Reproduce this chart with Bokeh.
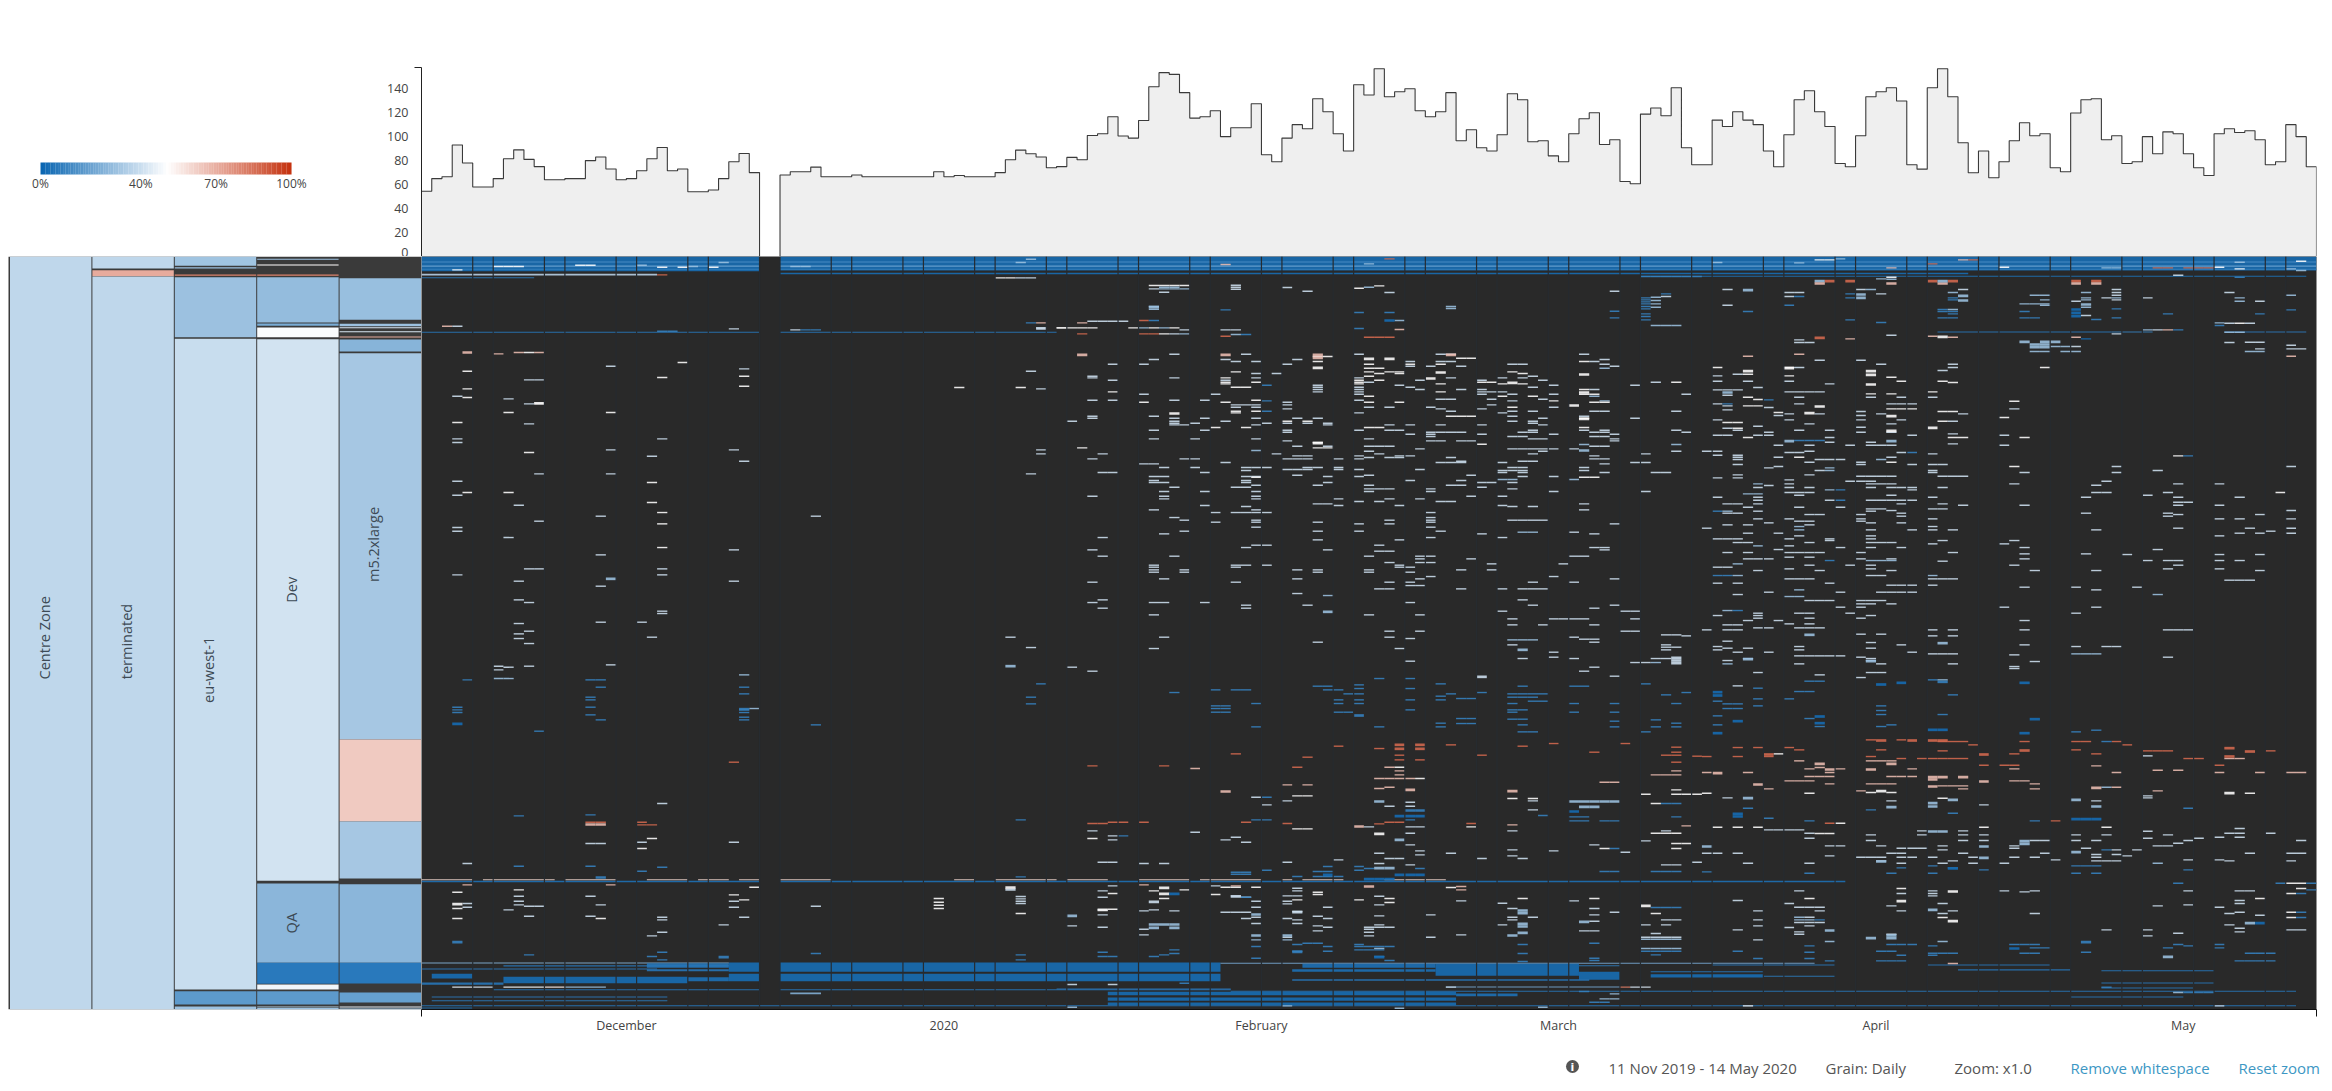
from bokeh.plotting import figure
from bokeh.layouts import column, row
from bokeh.models import Range1d, LinearColorMapper, ColumnDataSource, FixedTicker
from bokeh.core.properties import value
from bokeh.embed import file_html
from bokeh.resources import INLINE

# ---------- data ----------
running_instances = [54.5,65,66.5,93,78,58,58,65,81.5,89,81,75,64,64,65,65,80,83,73,64,65,71.5,81.5,91,71.5,73,54,54,55.5,65,79,86,70,0,0,
 68,70.7,70.7,74.6,66.5,66.5,66.5,68,66.5,66.5,66.5,66.5,66.5,66.5,66.5,70.7,66.5,67.6,66.5,66.5,66.5,70,80.7,88.8,85.7,83,74,75,82.7,80.7,
 101,102.4,116.6,100.5,98.8,113.5,141.7,153.4,152,136.7,115.5,116.6,121.6,100,107.4,107.4,127.5,84.9,79,98.8,110,106.6,131.6,120.8,102.4,88,
 143.3,134.7,156.7,133.3,137.5,140,121.6,116.6,120.8,136.7,96.6,105.8,90.7,88,101.6,135.8,
 130.8,95.7,96.6,84,79,102.4,115,120,93.5,97.4,62.6,60.7,118.8,123.9,117.5,140.8,90.7,76.5,76.5,113.8,108.5,120.8,113.8,110,88,74.9,101.6,
 130.8,138.3,120.8,108.5,77.6,74.9,100.8,133.3,137.5,140.8,129.7,76.5,72.9,140.8,156.7,133.3,94.9,69.9,88,65.7,79,96.6,111.6,100.8,102.4,74,
 70.7,119.7,130.8,131.6,97.4,100.8,77.6,79,100,85.7,104,102.4,85.7,74,67.6,102.4,106.6,103.5,104.9,97.4,76.5,79,110,100,74.9]
y_ticks = [0,20,40,60,80,100,120,140]
y_max = 157.7
month_days = [20,51,82,111,142,172]
month_labels = ["December","2020","February","March","April","May"]
legend_ticks = [0,40,70,100]
legend_labels = ["0%","40%","70%","100%"]
level_labels = [(0,1144,"Centre Zone"),(1,1155,"terminated"),(2,1240,"eu-west-1"),(3,1000,"Dev"),(3,2000,"QA"),(4,864,"m5.2xlarge")]
# (level, first rank, last rank, utilisation %)
hierarchy = [(0,0,2259,37),
 (1,0,36,37),(1,41,59,70),(1,60,2259,37),
 (2,0,28,30.5),(2,32,36,30),(2,54,58,80),(2,62,242,30),(2,247,2199,39),(2,2204,2244,17),(2,2250,2259,30),
 (3,7,10,30),(3,24,27,50),(3,54,58,80),(3,62,198,28.5),(3,201,208,23),(3,213,242,49),(3,248,1873,41),(3,1881,2119,26.5),(3,2119,2182,6.5),(3,2184,2199,47),(3,2204,2244,17),(3,2250,2252,35),(3,2254,2259,30),
 (4,65,190,29),(4,202,209,30),(4,212,215,42),(4,224,227,42),(4,240,243,70),(4,249,285,25.5),(4,290,1449,32),(4,1449,1695,62.5),(4,1695,1866,32),(4,1883,2119,26.5),(4,2119,2181,6.5),(4,2208,2238,19),(4,2250,2253,44),(4,2256,2259,30)]

W,G,L,B,D,S,R = 50,40,30,9,2,66,86
# long runs: (rank, first day, last day, %, rank height)
runs = [(0,0,32,3,44),(0,35,184,3,42),(15,0,32,14,3),(15,35,184,14,3),(27,0,32,20,4),(27,35,184,20,4),(37,0,32,9,3),(37,35,184,9,3),
 (49,35,150,3,4),(58,119,183,4,2.5),(52,0,22,36,5),(62,0,10,7,3),(226,0,32,6,3),(226,35,61,6,3),
 (1873,0,32,4,4),(1873,35,138,4,4),
 (1868,0,4,60,3.5),(1868,6,12,60,3.5),(1868,14,18,60,3.5),(1868,22,25,60,3.5),(1868,27,29,60,3.5),(1868,31,32,60,3.5),(1868,35,39,60,3.5),(1868,52,53,60,3.5),(1868,56,61,60,3.5),(1868,63,66,60,3.5),(1868,70,74,60,3.5),(1868,76,81,60,3.5),(1868,84,84,60,3.5),(1868,86,89,60,3.5),(1868,94,99,60,3.5),
 (2118,30,32,3,28),(2118,35,77,3,28),(2152,30,32,3,22),(2152,35,77,3,22),
 (2118,0,29,25,3),(2126,8,29,6,4),(2136,0,22,7,3),(2152,1,4,3,14),(2161,8,25,3,19),(2178,0,7,6,7),(2162,26,29,4,12),(2120,22,29,6,14),(2138,22,29,6,6),
 (2190,3,4,46,4),(2190,5,6,42,4),(2190,8,11,48,4),(2190,12,13,54,4),(2190,14,17,30,4),
 (2198,7,32,6,3),(2198,35,78,6,3),(2220,1,23,7,3),(2231,1,23,7,3),(2246,0,182,6,3),(2253,0,4,4,3),(2208,36,38,25,5),
 (2119,78,135,22,3),(2122,86,98,4,12),(2122,99,112,3,36),(2146,113,116,3,24),(2126,113,116,7,3),(2138,85,98,4,8),(2168,85,113,6,5),
 (2144,120,130,6,3),(2153,120,130,3,10),(2158,131,137,7,3),(2190,100,116,22,3),(2190,100,100,40,4),(2190,117,117,82,4),(2190,118,119,42,4),
 (2196,62,78,7,3),(2203,79,182,6,3),(2206,67,100,3,10),(2223,67,100,3,10),(2238,67,100,3,8),(2211,101,106,4,8),
 (2141,164,174,6,3),(2124,126,137,6,3),(2124,147,158,6,3),(2138,150,160,6,4),(2178,164,174,6,3),(2193,164,172,6,3),(2220,161,171,6,3),
 (225,148,164,6,3),(225,165,168,9,3),(225,176,183,7,3)]
# (rank, %, days...)
band_cells = [(28,W,7,8,9),(24,W,15,16),(38,W,3),(30,W,23,25,28),(28,L,26),(24,L,21),(16,L,29),(28,L,36,37),(16,L,58),(6,L,59),(5,R,94),(20,L,92),(22,S,78),
 (16,L,126),(8,W,136,137),(5,L,138),(17,L,134),(20,R,147),(8,S,150),(8,R,151),(32,S,143),(30,W,154),(32,R,169,170,172,173,174),(30,W,175),(32,L,164,165),(15,L,177),(35,W,177),(12,W,183),(35,L,182),(40,L,183),(53,R,23),(54,G,171),(60,B,177),(60,W,143),(65,L,142),(66,L,143)]
cells_upper_nov_jan = [(62,W,56,57),(62,G,58,59),(207,S,2),(207,G,3),(215,G,30),(222,B,23,24),(197,B,59),(197,S,60),(212,G,60),(212,W,62),(218,G,36),(218,B,37,38),
 (286,S,9,11),(286,W,10),(290,S,7),(316,W,25),(327,G,18),(335,G,31),(342,W,4),(342,G,59),(357,W,31),(361,W,23),(368,G,10,11),(387,W,31),(391,W,52,58),(395,W,4),(395,G,60),(417,G,3),(421,W,4),(425,G,8),(437,W,11),(440,G,10),(466,W,8,18),(496,W,3),(500,G,10),(545,G,3,23),(556,G,3),(578,G,18,30,60),(586,W,10),(590,G,60),(597,G,22),(612,G,31),(650,G,11,18,59),(672,G,3),(676,W,22),(706,W,4,8),(714,G,3),(736,W,22),(744,G,9),(766,W,23),(777,G,17,38),(792,G,11),(800,W,23),(811,G,3),(822,G,3),(841,G,8),(871,W,23),(878,G,30),(893,G,17),(935,G,10,11,23),(953,G,3,23),(972,G,9,30),(987,G,17),(1028,G,9),(1036,G,10),(1062,G,23),(1069,G,23),(1095,G,17,21),(1099,G,9),(1122,G,10)]
cells_upper_jan_mar = [(85,W,71,72,73,74),(90,L,72,73),(95,G,71),(95,L,72,73,74),(105,G,72),(84,G,79),(90,G,79),(96,G,79),(91,G,84),(102,G,86,116),(93,W,91),(90,L,92),(86,W,93),(106,G,94),
 (148,L,71,100),(156,L,71),(158,B,78),(154,L,100),(166,B,91,94),(190,L,95),(214,B,91),(110,B,121),(118,G,121),(162,B,116),(182,B,116),(205,L,120,121,122),
 (122,B,119),(128,B,119),(134,B,119),(140,B,119),(148,B,119),(155,B,119),(170,B,119),(178,B,119),(188,B,119),(120,L,120),(130,L,120),(140,L,120),(150,L,120),
 (197,S,64),(192,G,65,66,67,68),(190,R,70),(190,B,71),(212,W,62,63,64,65,69,71,73),(212,L,70,72),(218,G,74,78,79),(230,R,64,70,71),(230,W,72),(230,G,73),(230,L,74),(237,R,78),(232,L,79),(232,B,80),(217,S,95),(240,R,92,93,94),(58,B,119,120,121,122,123,124),
 (291,G,73,80,91,99,100,113),(298,W,87,88),(307,G,71,78,85,115),(313,G,79,81,96,99,100,114),(313,W,87,113),(303,W,101,102),(321,G,67,70,84,106,107,115),(321,W,92,96,99),(327,G,98,101,96,116),(333,W,92,93),(333,L,115),(344,W,79,94,95,92,106),(349,G,81,83),(349,W,93,95,107),(357,G,65,108),(357,W,92),(362,W,78),(362,G,65,73,100,81,91,105,107),(369,G,67,78,97,103,109),(369,W,91,93),(375,W,78,81,91,122,103,104),(375,G,120,92),(380,W,78,91,105,107,99),(384,G,87,110,118,95),(384,B,82),(390,W,79,80),(390,G,87,91,96,108),(397,G,87,91,97,101,103),(397,W,113),(397,G,114),(404,G,87,91,103,104,105),(404,W,67,99),(411,G,77,70,91,123,103,106,110),(411,W,113,114),(417,W,92,105,108),(417,L,114),(426,G,99,100,104,109),(429,G,65,67,73,76,91),(429,W,81),(431,B,82),(431,W,110),(431,G,106),(431,L,115),(435,W,70,78,92,95),(435,G,84),(435,W,114,115),(443,G,79,80,81,104,84),(450,G,79,81,92,94,98,110),(450,W,106),(455,G,84,103,99),(462,W,79,81),(462,B,82),(462,G,106,108,100,114,115,122),(467,W,79),(467,G,105,91),(477,G,65,71,106,113),(477,W,100,101,102),(483,G,65,73,85,76,81,87,109,118),(483,W,113),(492,G,63,73,78,106,108),(492,W,84,86),
 (498,G,73,75,84,86,82,108,88),(503,G,73,81,88,74,94,109,96,99,103),(511,W,77,80,92,93,113),(519,G,71,76,84,91,94,95,108,113,115,122),(525,G,84,98,99,100,101,107,108,114,115,123),(531,G,98,96,103,110,116),(538,G,98,106,107,114,115),(545,G,71,75,81,92,108,109,116),(551,G,84,98,99,101,102,116),(556,W,87),(561,W,103),(562,L,113,122),(567,G,85,88,92,93,94,114,115),(572,W,64,87,88),(575,G,97,106,107,108,109,110,112),(580,L,81),(582,G,92,109,122),(590,G,66,83,93,108,119),(596,G,85,86,91,95,96,114),(601,G,92,94,95,100),(605,G,65,74,75,84,85,86,89,91,114,115),(612,G,101,107,108),(616,G,78,99,100,101,105,119,118),(620,G,70,71,115),(631,G,72,75,80,81,82,86,87,89,106,107,113),(637,G,84,85,86,89,91,97),(640,G,80,105,106,107,113),(646,G,66,67,76,105,107,115,120,121),(654,G,85,92,102),(658,G,71,72,80,81,88,91,107,110),(660,W,81,113,114),(667,L,105,106,112),(670,G,71,96,80,101),(676,G,71,72,80,88,103,104,106),(684,G,81,87,92,100,101),(690,G,73,79,80,103),(695,G,92,93,94,98,106),(703,G,72,76,81,92,98,110,119),(717,G,65,72,81,102,105),(725,G,72,81,89,94,97),(733,G,91,93,99,100),(740,G,87,88,113),(745,G,89,76,95,105),(748,G,80,106,108),(758,G,71,81,113),(766,G,77,79,80,81,82,98),(781,G,73,98),(789,G,74,81,94,98),(789,G,106,107,108,109),(795,G,77,81,87,98),(800,G,91,94,116),(810,G,81,98),(822,G,74,87,91,99),(825,L,107,108),(825,G,112),(830,G,72,103,114),(841,G,66,98,105),(848,G,87,95),(864,G,93,81,82),(871,G,80,114,115),(878,G,65,88,115),(882,G,93,94),(897,G,66,73,92,97,98,113,112),(905,G,97,102),(916,G,94,97,98),(920,G,104,111),(924,G,71,79,80,82,95),(930,G,71,79,96,95),(938,G,71,74,85,87,92,101,104),(945,G,71,74,87,92,96),(958,G,98,110),(965,G,72,85,97,116),(975,G,65,79,94,96,108,112),(985,G,96,97),(995,G,93,94,101,105,107,108,109),(1009,G,85),(1015,L,88),(1028,G,66,107),(1036,G,65,71,72,76,96),(1044,G,80,86,108,116),(1053,G,66,80,114),(1073,G,71,92,97),(1062,G,105,117,118),(1085,G,106,110,111,112,113,118),(1103,G,106,109,114),(1122,G,94,97,117,118)]
cells_upper_mar_may = [(97,G,127,140),(97,L,141),(97,G,150,165),(106,G,133,134,165,176),(106,L,149,162),(110,G,142),(110,B,139),(114,L,157,158,182),(114,G,165),(118,G,133),(118,B,134),(122,B,139,149),(122,G,168,164),(122,L,165,162,177),(128,B,149),(128,L,158,162),(128,G,165),(132,G,161,179),(132,L,177),(140,L,156,157,158),(144,G,127),(144,B,133),(144,L,158),(150,L,162),(155,B,165),(158,B,182),(157,B,148),(157,L,149),(163,B,129,148,149,156),(170,B,149,170,179),(175,G,162),(182,B,148,149,156,157),(188,B,139),(187,B,163),(182,B,165),(196,B,142),(197,L,175),(198,G,176,178),(198,W,177),(205,B,175),
 (218,L,168),(218,G,169),(218,S,170),(218,B,171),(230,G,165),(234,G,143),(237,S,147),(240,S,149,161),(245,S,139),(245,D,162),(248,G,134),(256,G,134,135,176),(255,G,178,179),(264,G,182),(268,G,161),(268,L,159,160),(275,G,179,182,183),(283,L,157,158,160,161),(283,L,178,179),(225,L,176,177),
 (291,S,134),(297,S,129,182),(309,G,136,140),(321,G,142,149),(331,W,126,133,158),(331,G,134,149),(340,G,148),(351,G,128),(351,W,129),(356,G,126),(356,W,133),(360,W,143),(372,G,126,129,133),(372,W,144,148),(376,W,149),(380,G,137),(391,G,130),(398,G,126,127,128),(404,G,133,134,135,136),(404,W,147),(410,W,141,143),(414,G,127),(420,W,129),(427,W,130),(420,G,134,141,144,147),(428,B,131),(432,W,155),(440,G,126,134,143,144,145),(440,B,127),(446,W,129,130),(446,G,127),(451,G,131),(455,G,155),(455,W,143,144,145),(458,G,127),(463,G,140),(463,W,148,149),(466,W,132),(470,G,133,136,142,150),(475,G,132,140),(481,W,154),(488,G,126,133,140,144),(492,W,148),(492,G,149),(496,W,127,128),(500,G,135,143),(507,G,130),(510,G,140),(513,W,128),(513,G,127),(519,G,134,137,128),(525,G,131,140,143),(530,G,149),(534,G,126,127,130,131,145,154),(541,W,129,149,150,156),(541,G,137),(550,B,134,135,136),(555,G,141,137),(560,G,149),(564,G,132,135,139,141,142,143,154),
 (582,G,125,126,135),(586,G,133,134,144),(586,B,145),(590,G,147),(594,G,126,128),(600,G,128,132,143),(600,W,134),(607,G,128,136,137,138),(607,L,142),(596,W,171),(596,B,172),(615,G,135,140),(615,W,143),(622,G,128,147,148,140,145),(628,W,155),(628,G,165,182,132),(632,G,131),(632,L,137),(640,L,137),(640,G,136,147,169),(646,G,147,156,165),(653,G,128,135),(657,G,140,141,142,148,149,150),(657,G,143),(662,G,126,128),(668,G,133),(672,G,139,140,141,164),(680,L,130),(680,G,133,141,142,143,155,175,171),(684,G,163),(685,G,131),(691,G,130,143,144,145,133,135,141,148),(698,L,137),(698,B,138),(698,G,145),
 (706,G,164,133,134,135,163,170),(706,W,181),(710,L,129,130),(714,G,134,168,143),(720,G,126,130,147,162,171,177),(729,G,130,137,141,142,143,144,145),(729,B,138),(735,G,171,172),(740,G,127,128,130,144,148),(744,G,150,156,171,175),(750,G,129,134,138),(755,G,141,142,147,148),(760,G,143,182),(762,B,126),(762,L,127),(762,G,130,141),(768,G,127,128,162,170,144),(772,G,135,136,140,171,179),(777,G,144,170),(785,G,130,133,147,140,175,177,182),(792,G,134,135,140),(797,G,131,141,144),(803,G,127,129,135),(808,L,134),(808,G,147),(813,G,125,171,178,182),(818,L,134),(818,G,141,145,147,149,163),(822,G,180),(828,G,129,132,177,179,182),(836,G,134,141,175),(845,G,126,127,128,141,133,137),(850,G,137,155,148),(856,G,128,129,141,142,143,135),(860,G,154,147),(866,L,130),(866,G,133),(871,G,156,138,141,144),(877,G,132,169),(886,G,127,129,133,134,135,136,140,149),(890,G,156,162),(892,G,166,175,179),(900,G,133,135),(905,G,129,130,131,140,143,156),(910,L,141,142,143),(910,B,137),(910,G,168,170,171,175,177),(912,G,148),(920,L,128),(924,G,135,139,141,171,155),(930,G,126,127),(935,G,141,133,170,175),(940,G,130,136,143,157,163,179),(955,B,126,127),(955,L,128),(955,G,141,142),(955,L,147),(965,G,133,134,135,147,148,149),(969,G,176,177,178),(978,G,126,128,137),(984,G,143,144,145,147),(990,G,156,161,167),(998,L,134),(998,G,163),(1005,G,142,143,144,145,131,138),(1012,G,128),(1012,L,169),(1018,L,133,134),(1030,G,135,136,137,140,141,142),(1040,G,140,141,143),(1050,G,138,140,154,163),(1060,L,127),(1060,B,128),(1068,G,130,134,135,139,161),(1075,G,126,130,141),(1083,G,130,135,140),(1090,G,129,132,156),(1100,G,133,135),(1103,G,127,128),(1112,G,130,131,134,135,136),(1118,G,125,127,128,147,149,156,170,171,172)]
cells_lower_nov_jan = [(2,G,9),(12,G,22,57),(16,G,9),(31,G,10),(43,G,59),(95,G,18),(99,G,7,10),(102,G,8),(110,G,7),(125,L,31),(136,L,7,8),(140,B,4,16,17),(152,B,60),(162,B,17,31),(182,B,31),(192,B,16,59),(200,B,16),(212,B,59),(222,B,3,16),(226,L,32),(230,B,3,31),(238,B,3,31),(245,B,16),(252,B,31),(260,B,17,31),(275,B,38),(294,B,11),
 (387,R,30),(511,G,23),(548,B,9),(545,B,16),(560,B,58),(567,R,16,17,21),(575,R,21,22),(616,W,22),(627,G,21,30),(631,G,16,17),(646,W,21),(691,G,4),(699,B,9,16),(702,B,23),(714,B,21),(731,B,58),
 (755,S,4,18),(762,W,32),(770,W,9),(777,W,3),(785,W,30),(789,G,9,16),(790,G,58),(797,G,58),(804,G,58,9,30),(811,G,58),(796,W,50),(807,W,50),(816,W,50),(826,W,50),(800,W,31),(811,G,4),(815,G,9,17),(819,G,10,11,38),(822,G,4,30),(826,W,3),(830,G,8),(841,W,58),(849,G,10,16),(852,G,31,23),(856,W,3,17),(860,G,23),(875,G,29),(897,G,23),(908,G,22),(957,B,23),(961,B,38),(965,B,10,58),(970,B,22),(980,B,23,58)]
cells_lower_jan_mar = [(12,G,72,94),(16,G,96),(20,L,106,107,108),(12,G,112),(18,G,113,114),(27,G,87,114),(35,G,106),(46,G,71,95),(5,G,121,122),(8,G,123),(35,G,121),(42,G,121,122),(50,G,121),(57,G,110),(72,G,110),(76,G,107,112,120,121),(88,G,118,119),(88,L,120),(84,G,96),(102,G,63,114),(114,G,65,113),(129,G,116),
 (136,B,93,96),(152,B,99,119),(155,B,91),(159,B,87,88,107,112,113),(166,B,91,96),(170,B,88,89,77,79,80),(178,B,73,103,123),(182,B,90,91,100,106,107,108,109),(185,B,121),(189,B,99),(192,B,106,107,108),(196,B,101,102),(200,B,89,91,96,99),(204,B,108,109),(211,B,81,89,91,112,106,116,122),(218,B,77,78),(226,B,77,78),(237,B,77,78,89,90,112,116,106),(230,B,96,106,107),(256,B,101,102),(258,B,106,107),(260,B,120),(264,B,116),(270,B,99,122),(271,B,101,102),(275,B,107),(281,B,81,93,99,116,120,122),(296,B,107,108,119),
 (331,R,110,117),(335,R,100),(339,R,89,107),(346,R,93),(342,R,122),(357,R,114,122),(362,R,79),(366,R,95,103,121,122),(369,R,124),(372,R,86),(380,R,95,97),(387,R,122),(398,R,65,72),(402,R,85),(402,S,94),(402,W,95),(406,S,75),(413,S,95,122),(425,S,95,120,121,122),(436,S,93,94,95,96),(436,W,97),(447,S,115,116),(455,S,84,86),(462,S,94),(466,S,93),(470,W,122),(483,W,119,122,123,124),(488,W,85,86),(492,G,81),(492,B,82),(496,W,106,108),(503,G,84),(503,G,108),(511,W,120),(511,B,121,122),(515,G,82),(507,G,96),(519,G,94,96),(530,G,108),(547,B,109),(560,B,81,82,96),(563,B,112,113,115,116),(551,B,112,113,122),
 (567,R,67,68,70,80,94,95),(571,R,65,66,84,102),(572,R,93),(575,S,106),(578,S,123),(581,G,92,96,97),(581,W,102),(587,W,85,86),(593,G,65,106,121),(597,G,75),(600,W,120,121,122),(600,G,96),(608,G,67),(608,B,68),(612,G,79),(616,W,65),(620,G,67,78),(623,G,119),(627,G,80),(631,W,122,123),(635,G,96,114),(646,W,115,122),(646,B,116),(650,G,106),(653,G,97,110),(657,G,117),(660,G,100,93),(665,G,97),(668,G,106),(676,G,103,107,94,95),(687,G,66,67,84,124),(680,G,89),(691,G,70,72,93),(695,G,96,121,122),(700,B,88,91),(706,B,92,97),(711,B,82,91),(715,B,87,88,115,116,120,121,122),(717,B,79,80),(723,B,79,80),(730,B,85,87,88,89),
 (758,G,67,77),(755,S,70),(758,S,79),(762,W,78,79,81),(760,S,101),(763,W,100),(770,W,74),(770,S,101),(765,G,85),(773,G,66,85),(773,W,71),(777,W,87),(781,W,67),(784,W,87,77),(788,G,79,84,85),(789,G,93),(792,G,66,80),(792,B,80),(796,W,72,94,107,114),(800,W,91,85),(803,G,112,101),(804,G,81,84),(808,W,94),(810,G,105),(812,G,84),(815,G,93),(823,B,120,121,122),(822,G,81,88),(826,G,106,114),(830,G,66),(828,W,67),(830,G,71),(833,G,70,73),(835,G,85),(837,G,78,79,80,116),(845,G,66,114,98),(848,G,93),(841,W,120),(849,G,87),(852,G,81,106,108),(856,G,80,84,88),(860,G,85,106,121,122),(864,G,114),(871,G,85,81),(875,G,105,93,119,121),(878,G,63,87),(882,G,66,88,92,93,94),(888,G,70,92),(893,G,87,113,114),(897,G,92),(901,G,120),(905,G,70,101),(908,G,92),(912,G,84,98,119,120,121,122),(918,L,119,120,121,122),(920,L,81,84),(930,B,86,87,114),(934,B,85,91,107),(940,B,88,81,91,92,93,94),(946,L,93,119,120,121,122),(950,B,91,92,93,73),(954,B,85,88,119,120,121,122),(957,B,66),(961,B,73,107),(965,B,72,120),(970,B,66,67,71,93),(975,B,81,114),(982,B,94,114),(985,B,107),
 (1054,G,63,67),(1050,B,74),(1097,L,115,116),(1082,L,116),(1107,B,114,115),(1075,B,113),(1118,L,84),(1122,L,109),(1125,L,95),(1122,L,63)]
cells_lower_mar_may = [(3,G,140,142),(8,G,147,149),(24,G,127),(28,G,141),(35,G,144,156),(40,G,126,134,161,164,165),(45,G,129,127,141),(50,G,126,134),(57,G,128,131,145),(62,G,147,148,149),(62,L,161,162,163),(65,G,155),(68,G,134,135,136,137,138),(72,G,140,170),(76,L,129),(76,G,141),(82,G,127),(82,L,141),(85,G,157),(92,L,127),(92,G,142,134,149),(100,G,155),(106,G,155),(118,G,130,142,141),(125,G,136),(133,G,140),(144,B,135,136),(140,B,147),(140,L,148),(158,G,128),(165,B,130),(175,B,134,135),(185,B,149),(197,B,130,133),(204,B,126),(212,B,127,128),(218,B,142,130),(226,B,127,128),(232,B,142),(244,B,148,142),(248,B,126),(256,B,135),(275,B,126,143),(280,B,136,142),(291,B,163),(296,B,161),
 (320,R,141,144),(325,R,150,161,162,165),(325,R,148,149,156),(325,B,164),(335,R,151,166),(343,R,128,130,133),(350,R,134,142,161),(353,R,148,168,169,170,180),(362,W,132),(362,R,163,155),(368,G,168),(370,R,125,128,131,141),(376,R,144,146,147,148,149,150,172,173),(376,S,176,177),(383,S,134,141,142,143),(396,R,152,154,155,175),(398,S,163),(403,S,136),(407,S,135,145,155,138),(411,S,169,171),(418,S,125,129,137,175,179,165,182,183),(430,S,135,136,137,143,144,145),(443,S,133,134,135,155,156),(452,S,137,141,142,143,157),(458,S,148,149,150),(462,L,164),(462,S,165),(467,S,150,157,131),
 (473,S,140,169),(480,W,125,135,178),(478,W,141,143),(488,G,168),(494,G,168),(494,G,127),(495,W,148),(503,G,143,163),(515,G,152),(525,B,129,172),(530,B,141),(540,B,149),(555,B,131),(563,B,135,157),(563,R,159),
 (570,R,137),(570,W,138),(582,W,126,128,130,164,152),(590,G,131,132,133,134),(593,G,146,150),(586,G,177),(594,G,168),(600,G,135,176,177,180),(601,W,136,137),(605,G,141,146,150,152,161,164,170),(612,G,177,175),(615,G,135,168,173),(622,G,157,158,161,163,141,150,152,172,183),(630,G,171),(638,G,137,138,148,142,155,169,170),(645,G,145,146,144,155,162),(650,B,164),(650,G,165,148,167),(660,G,126,128,125,143,144,150,158,178,182,183),(664,G,163,165),(668,G,137,166),(672,G,140,141,142,144,145,147,151,155,157,163),(680,G,159,172,175),(683,G,142,149,163,164,165,182,176),(690,G,129,135,151,154,144,148),(690,L,169),(698,B,161,162,163,147),(704,B,149,144),(710,B,152,172),(716,B,125),(720,B,143,135,147,161,163),
 (750,B,171,181),(750,W,182,183),(750,B,184),(766,W,144,183),(770,B,184),(773,G,134,147,154,157,172,177,178),(776,G,156),(781,G,144,147),(781,W,182),(781,B,183),(788,G,147),(796,W,135,179),(802,G,128,177),(811,G,133,148,177),(815,G,172),(818,G,143,169),(822,G,134,135,136,175),(833,G,130,149,136,144),(837,G,177),(837,W,182),(837,B,183),(841,G,148,157,176),(846,G,179),(852,L,134),(852,G,135),(853,W,148,182),(853,B,183),(860,G,130),(860,L,134,135),(860,B,136),(868,G,134,135,136),(875,G,176),(878,G,130,135),(883,G,133),(885,G,177),(890,G,128,164,168,182,183),(896,G,134,177),(900,G,171),(903,G,134,143),(908,G,168),(920,G,130),(925,L,148,137),(934,B,155,156,157,171,175,143,144,145),(938,B,147,135,172),(944,B,157,158,170,175),(954,B,128,142,143),(957,B,135,162),(960,B,147,148,149,156,157,178,179,180),(966,B,144,147),(976,B,130,135),(983,B,137,142,143,144,177,178,179,180),
 (991,S,149),(1062,B,164),(1078,L,171),(1078,B,172,173,174),(1118,W,129),(1118,G,175)]
thick_upper = [(284,S,4),(437,W,11),(212,G,60),(148,L,71),(188,D,94),(291,S,64,78,87,100),(303,W,92,94),(300,S,87),(330,W,87),(344,W,99),(362,W,98),(375,W,106),(467,W,73),(443,W,112),(404,W,113),(483,W,113),(350,W,113),(556,W,87),(578,L,113),(963,L,18),(1062,L,88),(70,L,136),(70,R,137,139,147,149,161,163),(77,S,136,143,148,161,163),(70,L,148),(110,L,140),(120,L,140),(97,L,129),(114,L,150),(128,L,150),(140,L,162),(155,D,161),(165,D,161),(175,D,161),(240,R,136),(237,W,148),(252,L,156),(252,L,158,159),(260,L,157,158),(268,L,157,158),(404,L,127),(331,W,133),(340,W,129),(340,W,141),(351,W,141),(380,W,141),(446,W,136),(466,W,135),(475,W,143),(510,W,147),(519,W,143),(550,L,133,143)]
thick_lower = [(97,L,57),(129,G,103),(270,D,3),(226,B,31),(572,S,16,17),(767,G,57),(761,W,57),(811,W,3),(925,B,3),(731,B,17),(970,B,29),
 (48,L,107),(80,G,122),(72,G,122),(88,G,122),(333,R,95,97),(345,R,95,97),(473,S,78),(472,S,106),(468,S,96),(600,W,93),(618,L,95),(578,S,91),(503,L,93,112,113,114,115,116),(519,L,113,114),(533,D,112),(530,B,96,97),(547,D,95,96,97),(245,B,91),(703,L,93,94),(723,D,88,95,96,97),(736,D,92,93,94),(758,S,92),(762,W,72),(780,W,72),(780,D,73),(788,G,79),(816,W,119),(804,G,71),(828,W,66),(830,L,107),(838,L,107),(842,L,81),(835,G,85),(846,L,63),(864,L,113),(870,L,107),(878,L,107),(872,L,71,72,73),(882,L,71,73),(897,L,107),(905,L,81,84,106),(954,B,85),(970,D,93),
 (3,L,135),(28,L,148),(76,L,129),(82,L,141),(147,D,156,144),(152,D,142),(144,B,148),(175,D,126),(185,D,126),(248,D,136),(268,D,136),(256,D,157),(262,D,128),(288,D,147,148),(298,D,126,156),(320,R,142,145,147,148),(350,R,156),(343,R,176),(353,R,178),(362,R,131,152),(368,R,176),(390,S,136,143),(407,S,137,141),(418,S,126),(430,S,147,148,150),(437,S,147),(443,S,152),(452,S,130),(458,S,147),(462,S,163),(472,W,142),(478,W,176),(493,L,129),(498,L,149,161),(520,L,143),(508,L,147),(518,L,147),(518,L,163),(540,D,128),(548,D,128),(556,D,161,162,163),(593,L,147,148),(622,L,156),(630,L,156),(638,L,152,125),(655,L,161),(672,L,152),(683,L,142),(704,D,149),(773,W,149),(802,W,144),(828,L,147),(862,W,149),(868,L,178),(868,D,179),(890,L,137),(905,L,143),(913,L,141,143),(925,B,162),(944,D,155),(969,L,170)]

# ---------- helpers ----------
def lerp(a, b, t):
    return tuple(round(a[i] + (b[i] - a[i]) * t) for i in range(3))
blue_end, mid_white, red_end = (10,102,178), (255,255,255), (196,48,12)
palette = []
for i in range(256):
    t = i / 255
    c = lerp(blue_end, mid_white, t * 2) if t < .5 else lerp(mid_white, red_end, (t - .5) * 2)
    palette.append("#%02x%02x%02x" % c)
mapper = LinearColorMapper(palette=palette, low=0, high=100)
FONT = value("Open Sans")
INK = "#444444"

# ---------- legend ----------
lg = figure(frame_width=381, frame_height=189, x_range=Range1d(-15.94, 135.9), y_range=Range1d(256, 67),
            output_backend="svg", toolbar_location=None, min_border=0, min_border_top=67, outline_line_color=None)
lg.axis.visible = False
lg.grid.visible = False
steps = list(range(0, 100))
lg.quad(left=steps, right=[s + 1.05 for s in steps], top=[162] * 100, bottom=[174] * 100,
        fill_color=[palette[min(255, int(s * 2.56))] for s in steps], line_color=None)
lg.text(x=legend_ticks, y=[183] * 4, text=legend_labels, text_font=FONT, text_font_size="12px",
        text_color=INK, text_align="center", text_baseline="middle")

# ---------- daily totals ----------
top = figure(frame_width=1895, frame_height=189, x_range=Range1d(0, len(running_instances)), y_range=Range1d(0, y_max),
             output_backend="svg", toolbar_location=None, min_border_left=40, min_border_right=6, min_border_top=67,
             min_border_bottom=0, outline_line_color=None)
top.grid.visible = False
top.xaxis.visible = False
xs, ys = [], []
for d, v in enumerate(running_instances):
    xs += [d, d + 1]
    ys += [v, v]
top.varea(x=xs, y1=[0] * len(xs), y2=ys, fill_color="#efefef")
xs.append(len(running_instances)); ys.append(0)
top.line(xs, ys, line_color="#3a3a3a", line_width=1.1)
ya = top.yaxis[0]
ya.ticker = FixedTicker(ticks=y_ticks, minor_ticks=[y_max])
ya.major_tick_out = 0; ya.major_tick_in = 0; ya.minor_tick_out = 7; ya.minor_tick_in = 0
ya.minor_tick_line_color = "#222222"; ya.axis_line_color = "#222222"
ya.major_label_text_font = "Open Sans"; ya.major_label_text_font_size = "12.5px"; ya.major_label_text_color = INK
ya.major_label_standoff = 6

# ---------- hierarchy ----------
ic = figure(frame_width=421, frame_height=753, x_range=Range1d(-0.1092, 5), y_range=Range1d(2259, 0),
            output_backend="svg", toolbar_location=None, min_border=0, min_border_bottom=26, outline_line_color=None)
ic.axis.visible = False
ic.grid.visible = False
ic.quad(left=[-0.012], right=[5], top=[0], bottom=[2259], fill_color="#3a3a3a", line_color=None)
ic.quad(left=[h[0] + .006 for h in hierarchy], right=[h[0] + 1 - .006 for h in hierarchy],
        top=[h[1] for h in hierarchy], bottom=[h[2] for h in hierarchy],
        fill_color=[palette[min(255, int(h[3] * 2.56))] for h in hierarchy], line_color=None)
ic.text(x=[l[0] + .42 for l in level_labels], y=[l[1] for l in level_labels], text=[l[2] for l in level_labels],
        angle=1.5708, text_font=FONT, text_font_size="14.5px", text_color="#3d4a55",
        text_align="center", text_baseline="middle")

# ---------- heat map ----------
hm = figure(frame_width=1895, frame_height=753, x_range=Range1d(0, 185), y_range=Range1d(2259, 0),
            output_backend="svg", toolbar_location=None, min_border=0, min_border_right=6, min_border_bottom=26,
            outline_line_color=None, background_fill_color="#292929")
hm.grid.visible = False
hm.yaxis.visible = False
left, right, tops, bottoms, pct = [], [], [], [], []
def add(rank, d0, d1, p, h):
    left.append(d0); right.append(d1 + 1); tops.append(rank); bottoms.append(rank + h); pct.append(p)
for rank, d0, d1, p, h in runs:
    add(rank, d0, d1, p, h)
for rows, off, h in [(band_cells, 0, 4.2), (cells_upper_nov_jan, 0, 4.2), (cells_upper_jan_mar, 0, 4.2), (cells_upper_mar_may, 0, 4.2),
                     (cells_lower_nov_jan, 1128, 4.2), (cells_lower_jan_mar, 1128, 4.2), (cells_lower_mar_may, 1128, 4.2),
                     (thick_upper, 0, 8), (thick_lower, 1128, 8)]:
    for r in rows:
        for d in r[2:]:
            add(r[0] + off, d, d, r[1], h)
src = ColumnDataSource(dict(left=left, right=right, top=tops, bottom=bottoms, pct=pct))
hm.quad(left="left", right="right", top="top", bottom="bottom", source=src,
        fill_color={"field": "pct", "transform": mapper}, line_color=None, fill_alpha=0.88)
week_marks = [d for k in range(27) for d in (5 + 7 * k, 7 + 7 * k) if d < 185]
hm.segment(x0=week_marks, x1=week_marks, y0=[0] * len(week_marks), y1=[2259] * len(week_marks), line_color="#262b30", line_width=1.2)
xa = hm.xaxis[0]
xa.ticker = FixedTicker(ticks=month_days, minor_ticks=[0, 185])
xa.major_label_overrides = {d: l for d, l in zip(month_days, month_labels)}
xa.major_tick_out = 0; xa.major_tick_in = 0; xa.minor_tick_out = 7; xa.minor_tick_in = 0
xa.minor_tick_line_color = "#111111"; xa.axis_line_color = "#111111"
xa.major_label_text_font = "Open Sans"; xa.major_label_text_font_size = "12.5px"; xa.major_label_text_color = INK
xa.major_label_standoff = 0

# ---------- footer ----------
ft = figure(frame_width=2322, frame_height=48, x_range=Range1d(0, 2322), y_range=Range1d(1083, 1035),
            output_backend="svg", toolbar_location=None, min_border=0, outline_line_color=None)
ft.axis.visible = False
ft.grid.visible = False
ft.scatter(x=[1572], y=[1065], size=13, marker="circle", fill_color="#555555", line_color=None)
ft.text(x=[1572], y=[1065.5], text=["i"], text_font=value("DejaVu Sans"), text_font_style="bold", text_font_size="11px",
        text_color="white", text_align="center", text_baseline="middle")
ft.text(x=[1608, 1825, 1954], y=[1066] * 3, text=["11 Nov 2019 - 14 May 2020", "Grain: Daily", "Zoom: x1.0"], text_font=FONT,
        text_font_size="15px", text_color="#555555", text_baseline="middle")
ft.text(x=[2070, 2238], y=[1066] * 2, text=["Remove whitespace", "Reset zoom"], text_font=FONT,
        text_font_size="15px", text_color="#3d97c4", text_baseline="middle")

page = column(row(lg, top, spacing=0), row(ic, hm, spacing=0), ft, spacing=0)
open("out.html", "w").write(file_html(page, INLINE))
